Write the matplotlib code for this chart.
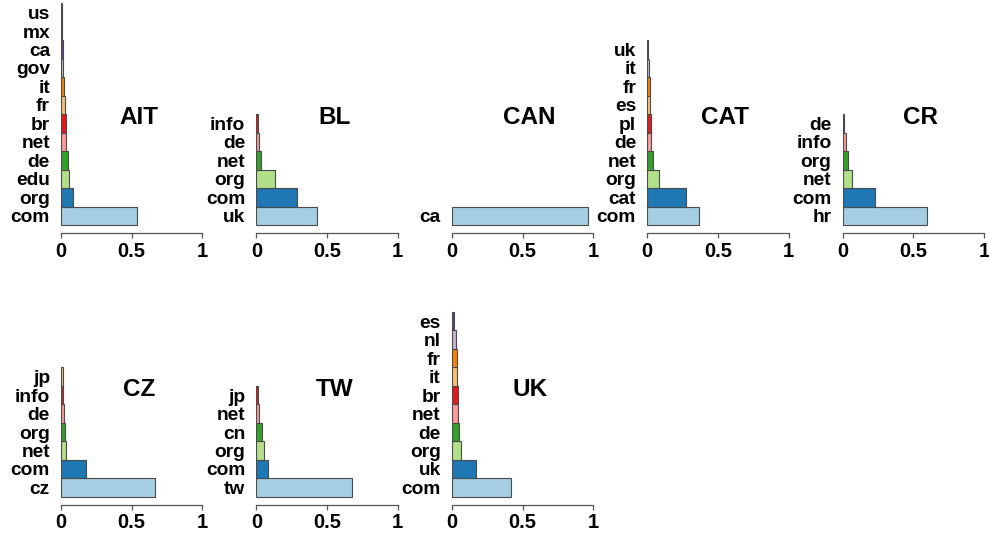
import matplotlib
matplotlib.use("Agg")
import matplotlib.pyplot as plt

plt.rcParams['font.family'] = ['Liberation Sans', 'DejaVu Sans']
plt.rcParams['font.weight'] = 'bold'

# ColorBrewer "Paired" palette, one colour per rank
PAIRED = ["#A6CEE3", "#1F78B4", "#B2DF8A", "#33A02C", "#FB9A99", "#E31A1C",
          "#FDBF6F", "#FF7F00", "#CAB2D6", "#6A3D9A", "#FFFF99", "#B15928"]

# Share of links per top-level domain, ordered by rank (largest first)
ait_labels = ["com", "org", "edu", "de", "net", "br", "fr", "it", "gov", "ca", "mx", "us"]
ait_values = [0.535, 0.083, 0.054, 0.050, 0.038, 0.032, 0.026, 0.021, 0.014, 0.011, 0.009, 0.007]

bl_labels = ["uk", "com", "org", "net", "de", "info"]
bl_values = [0.43, 0.29, 0.13, 0.035, 0.018, 0.012]

can_labels = ["ca"]
can_values = [0.965]

cat_labels = ["com", "cat", "org", "net", "de", "pl", "es", "fr", "it", "uk"]
cat_values = [0.367, 0.272, 0.083, 0.040, 0.028, 0.024, 0.021, 0.017, 0.012, 0.008]

cr_labels = ["hr", "com", "net", "org", "info", "de"]
cr_values = [0.60, 0.226, 0.066, 0.040, 0.023, 0.012]

cz_labels = ["cz", "com", "net", "org", "de", "info", "jp"]
cz_values = [0.666, 0.174, 0.033, 0.031, 0.021, 0.016, 0.012]

tw_labels = ["tw", "com", "org", "cn", "net", "jp"]
tw_values = [0.673, 0.085, 0.056, 0.040, 0.016, 0.010]

uk_labels = ["com", "uk", "org", "de", "net", "br", "it", "fr", "nl", "es"]
uk_values = [0.417, 0.172, 0.063, 0.052, 0.045, 0.043, 0.038, 0.035, 0.028, 0.016]

panels = [
    ("AIT", ait_labels, ait_values, 0, 0),
    ("BL", bl_labels, bl_values, 0, 1),
    ("CAN", can_labels, can_values, 0, 2),
    ("CAT", cat_labels, cat_values, 0, 3),
    ("CR", cr_labels, cr_values, 0, 4),
    ("CZ", cz_labels, cz_values, 1, 0),
    ("TW", tw_labels, tw_values, 1, 1),
    ("UK", uk_labels, uk_values, 1, 2),
]

W, H = 989, 537
fig = plt.figure(figsize=(W / 100, H / 100), dpi=100)
fig.patch.set_facecolor("white")

col_x0 = [61, 256.4, 451.8, 647.2, 842.6]
row_axis_y = [233.3, 505.0]
ax_w = 141.4
ax_h = 230.0

for title, labels, values, row, col in panels:
    ax = fig.add_axes([col_x0[col] / W, 1 - row_axis_y[row] / H, ax_w / W, ax_h / H])
    ax.patch.set_visible(False)
    n = len(values)
    ax.barh(range(n), values, height=1.0, align="edge",
            color=PAIRED[:n], edgecolor="#4a4a4a", linewidth=0.8)
    ax.set_xlim(0, 1)
    ax.set_ylim(-0.45, 12)

    for side in ("top", "right", "left"):
        ax.spines[side].set_visible(False)
    ax.spines["bottom"].set_bounds(0, 1)
    ax.spines["bottom"].set_color("#555555")
    ax.spines["bottom"].set_linewidth(0.9)

    ax.set_xticks([0, 0.5, 1])
    ax.set_xticklabels(["0", "0.5", "1"], fontsize=14.5, fontweight="bold")
    ax.tick_params(axis="x", length=3.5, width=0.9, color="#555555", pad=2.5)

    ax.set_yticks([i + 0.5 for i in range(n)])
    ax.set_yticklabels(labels, fontsize=13.8, fontweight="bold")
    ax.tick_params(axis="y", length=0, pad=8)

    ax.text(0.55, 5.8, title, ha="center", va="center",
            fontsize=17.5, fontweight="bold")

fig.savefig("out.png", dpi=100, facecolor="white")
